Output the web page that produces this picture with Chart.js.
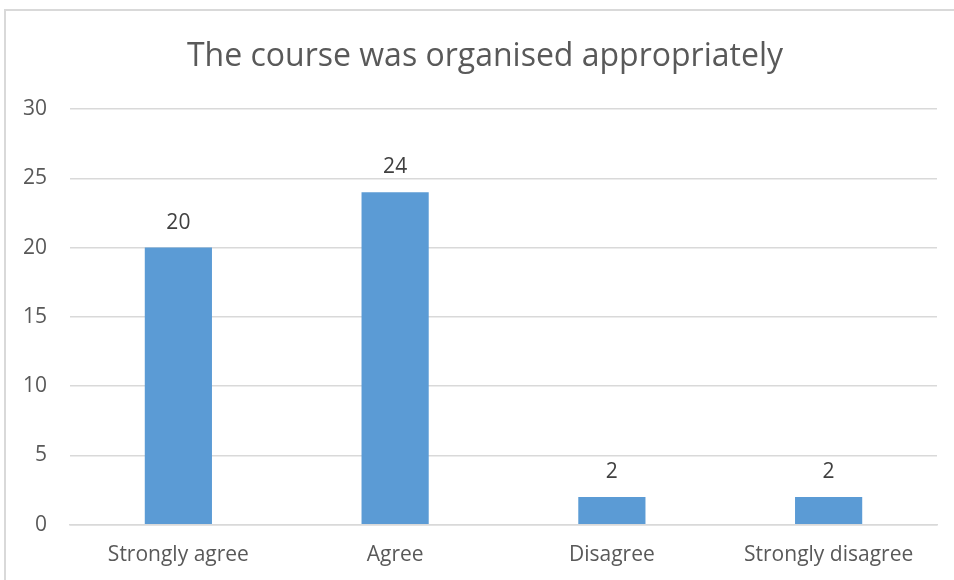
<!DOCTYPE html>
<html>
<head>
<meta charset="utf-8">
<script src="https://cdn.jsdelivr.net/npm/chart.js@4"></script>
<style>
  html, body { margin: 0; padding: 0; background: #fff; overflow: hidden; }
  #frame { position: absolute; left: 4px; top: 9px; width: 1000px; height: 1000px;
           border: 2px solid #d9d9d9; box-sizing: border-box; }
  #wrap { position: absolute; left: 0; top: 0; width: 954px; height: 580px; }
</style>
</head>
<body>
<div id="frame"></div>
<div id="wrap"><canvas id="grafico"></canvas></div>
<script>
const categorias = ['Strongly agree', 'Agree', 'Disagree', 'Strongly disagree'];
const respostas = [20, 24, 2, 2];
const tituloTexto = 'The course was organised appropriately';

const fonte = "'Open Sans', 'Noto Sans', sans-serif";

// escreve o valor em cima de cada barra e o titulo
const rotulos = {
    id: 'rotulos',
    afterDatasetsDraw(chart) {
        const c = chart.ctx;
        const meta = chart.getDatasetMeta(0);
        c.save();
        c.font = '21px ' + fonte;
        c.fillStyle = '#404040';
        c.textAlign = 'center';
        c.textBaseline = 'middle';
        meta.data.forEach(function(bar, i) {
            c.fillText(respostas[i], bar.x, bar.y - 25);
        });
        // titulo centrado como no Excel
        c.font = '32px ' + fonte;
        c.fillStyle = '#595959';
        c.fillText(tituloTexto, 485, 57);
        c.restore();
    }
};

new Chart(document.getElementById('grafico'), {
    type: 'bar',
    data: {
        labels: categorias,
        datasets: [{
            data: respostas,
            backgroundColor: '#5b9bd5',
            barPercentage: 0.31,
            categoryPercentage: 1
        }]
    },
    plugins: [rotulos],
    options: {
        responsive: true,
        maintainAspectRatio: false,
        animation: false,
        layout: { padding: { left: 0, right: 17, top: 109, bottom: -6 } },
        plugins: {
            legend: { display: false },
            tooltip: { enabled: false },
            title: { display: false }
        },
        scales: {
            x: {
                grid: { display: false, drawTicks: false },
                border: { display: true, color: '#d9d9d9', width: 1.5 },
                ticks: { color: '#595959', font: { family: fonte, size: 21 }, padding: 18 }
            },
            y: {
                min: 0,
                max: 30,
                afterFit(scale) { scale.width = 70; },
                grid: { color: '#d9d9d9', lineWidth: 1.5, drawTicks: false },
                border: { display: false },
                ticks: { stepSize: 5, color: '#595959', font: { family: fonte, size: 21 }, padding: 23 }
            }
        }
    }
});
</script>
</body>
</html>
